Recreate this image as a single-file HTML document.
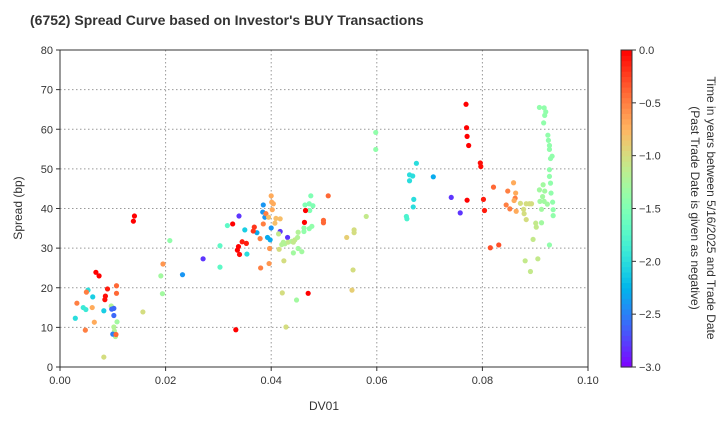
<!DOCTYPE html>
<html><head><meta charset="utf-8"><style>
body{margin:0;background:#fff;font-family:"Liberation Sans",sans-serif}
svg text{font-family:"Liberation Sans",sans-serif;fill:#333}
</style></head><body>
<svg id="c" width="720" height="420" xmlns="http://www.w3.org/2000/svg">
<defs><linearGradient id="cg" x1="0" y1="1" x2="0" y2="0" id2="x"></linearGradient></defs>
<text x="30" y="25" font-size="14" font-weight="bold" style="fill:#333">(6752)   Spread Curve based on Investor's BUY Transactions</text>
<g id="grid"></g>
<g id="pts"></g>
<g id="axes"></g>
<g id="cbar"></g>
<text x="324" y="410" font-size="12" text-anchor="middle">DV01</text>
<text transform="translate(22,208) rotate(-90)" font-size="12" text-anchor="middle">Spread (bp)</text>
<text transform="translate(707,208) rotate(90)" font-size="12" text-anchor="middle">Time in years between 5/16/2025 and Trade Date</text>
<text transform="translate(691,208) rotate(90)" font-size="12" text-anchor="middle">(Past Trade Date is given as negative)</text>
</svg>
<script>
const xTicks=[0,0.02,0.04,0.06,0.08,0.10];
const xTickLabels=["0.00","0.02","0.04","0.06","0.08","0.10"];
const yTicks=[0,10,20,30,40,50,60,70,80];
const cTicks=[0,-0.5,-1,-1.5,-2,-2.5,-3];
const cTickLabels=["0.0","−0.5","−1.0","−1.5","−2.0","−2.5","−3.0"];
const dv01=[.0141,.0139,.0208,.0195,.0191,.0232,.0194,.0157,.0068,.0074,.0053,.005,.009,.0107,.0107,.0086,.0085,.0062,.0032,.0044,.0049,.0061,.0083,.0097,.0102,.0098,.0102,.0108,.0029,.0065,.0048,.0102,.0103,.0105,.01,.0106,.0083,
.0271,.0303,.0303,.0333,.0339,.0327,.0317,.035,.0373,.0368,.0366,.0379,.0345,.0353,.0338,.0336,.034,.0354,.038,.0396,.0397,.0385,.0384,.0388,.039,.0385,.04,.0401,.0404,.0402,.0395,.0409,.0417,.0407,.04,.0393,.0398,.0417,.0414,.0431,
.042,.0426,.0432,.0439,.0445,.045,.0451,.0442,.0423,.0415,.0424,.0442,.0458,.0451,.0421,.0448,.047,.0428,.0475,.0464,.0472,.0479,.0473,.0465,.0463,.0462,.0462,.0472,.0477,.0508,.0499,.0499,.0557,.0557,.0543,.0555,.0553,.0598,.0598,.058,
.0769,.077,.0771,.0774,.0796,.0797,.0675,.0662,.0668,.0662,.0707,.067,.0669,.0656,.0657,.0741,.0758,.0771,.0802,.0804,.0821,.0815,.0831,.0845,.0852,.0848,.0862,.0859,.0863,.086,.0864,
.0872,.0883,.0889,.0893,.0878,.0879,.0883,.0901,.0902,.0896,.0905,.0881,.0891,.0912,.0927,
.0908,.0917,.092,.0918,.0916,.0924,.0925,.0927,.0927,.0932,.0929,.0927,.0927,.0929,.0915,.0908,.0918,.0914,.093,.0909,.0917,.0933,.0923,.0912,.0934,.0934];
const spread=[38.1,36.8,31.9,26,23,23.3,18.5,13.9,23.9,23,19.4,18.9,19.7,20.5,18.6,17.9,17,17.7,16.1,15,14.5,15,14.2,15.4,14.8,14.6,13,11.4,12.3,11.3,9.3,10.1,9.1,7.7,8.3,8.2,2.5,
27.3,30.6,25.2,9.4,38.1,36.1,35.7,34.6,33.9,35.3,34.3,32.4,31.6,31.2,30.4,29.5,28.4,28.5,25,26.1,29.9,40.9,39.1,37.8,38.7,36.1,43.2,41.6,41.2,39.7,37.8,37.5,37.4,36.3,35.1,32.7,32.1,34.2,33.6,32.7,
30.9,31.1,31.5,31.7,32.1,32.7,34,31.5,31.5,29.7,26.8,28.8,29.1,29.9,18.7,16.9,18.6,10.1,43.2,40.9,41.2,40.7,39.5,39.5,36.5,35.1,34.2,34.9,35.5,43.2,37,36.4,34.6,33.9,32.7,24.5,19.4,59.2,54.9,38,
66.3,60.4,58.2,55.9,51.5,50.6,51.4,48.5,48.2,47,48,42.3,40.4,38,37.4,42.8,38.9,42.1,42.3,39.5,45.4,30.1,30.8,40.9,39.9,44.4,42.6,46.5,43.9,42,39.3,
41.3,41.2,41.2,41.2,39.8,38.7,37.2,36.3,35.3,32.2,27.3,26.8,24.1,36.4,30.8,
65.5,65.4,64.4,63.5,61.6,58.5,57.2,55.9,54.9,53.2,52.6,49.8,48.1,46.4,46,44.7,44.4,43,43.9,41.8,41.8,41.6,41.1,39.8,39.7,38.2];
const tyears=[0,0,-1.4,-0.6,-1.3,-2.4,-1.3,-1,0,0,-2,-0.5,-0.1,-0.4,-0.4,-0.05,-0.05,-2.1,-0.5,-1.9,-1.9,-0.7,-2.1,-1.2,-2.6,-2.6,-2.6,-1.3,-2,-0.7,-0.5,-1.2,-1.2,-1.2,-2.5,-0.4,-1,
-2.8,-1.7,-1.7,0,-2.8,0,-1.7,-2.1,-2.3,-0.2,-0.2,-0.5,-0.1,-0.1,0,0,-0.05,-2,-0.5,-0.6,-0.6,-2.4,-2.4,-2.4,-0.5,-0.5,-0.7,-0.7,-0.7,-0.7,-0.8,-0.8,-0.8,-0.8,-2.4,-2.3,-2.3,-2.8,-1.1,-2.8,
-1.2,-1.2,-1.1,-1.2,-1.1,-1.2,-1.2,-1.1,-1.2,-1,-1,-1.3,-1.3,-1.3,-1,-1.3,0,-1,-1.5,-1.5,-1.5,-1.5,-1.5,0,0,-1.4,-1.4,-1.4,-1.4,-0.4,-0.4,-0.4,-1,-1,-0.9,-1,-0.9,-1.4,-1.4,-1.1,
0,0,0,0,-0.05,-0.05,-2,-2,-2,-2,-2.3,-2,-2,-1.8,-1.8,-2.8,-2.8,0,-0.1,-0.1,-0.4,-0.3,-0.3,-0.5,-0.5,-0.5,-0.5,-0.7,-0.7,-0.7,-0.7,
-1,-1,-1,-1,-1,-1,-1,-1.1,-1.1,-1.1,-1.1,-1.1,-1.1,-1.3,-1.4,
-1.4,-1.4,-1.4,-1.4,-1.4,-1.4,-1.4,-1.4,-1.4,-1.4,-1.4,-1.4,-1.4,-1.4,-1.3,-1.3,-1.3,-1.3,-1.4,-1.3,-1.3,-1.4,-1.3,-1.3,-1.4,-1.4];
const NS="http://www.w3.org/2000/svg";
const X0=60,X1=588,Y0=367,Y1=50;
const xs=v=>X0+(v/0.1)*(X1-X0);
const ys=v=>Y0-(v/80)*(Y0-Y1);
function rainbow(t){const v=Math.max(0,Math.min(1,(t+3)/3));
 const r=Math.min(1,Math.abs(2*v-0.5)),g=Math.sin(Math.PI*v),b=Math.cos(Math.PI*v/2);
 return `rgb(${Math.round(r*255)},${Math.round(g*255)},${Math.round(b*255)})`;}
function mk(tag,at,parent){const e=document.createElementNS(NS,tag);for(const k in at)e.setAttribute(k,at[k]);parent.appendChild(e);return e;}
const grid=document.getElementById('grid'),axes=document.getElementById('axes'),pts=document.getElementById('pts'),cb=document.getElementById('cbar');
xTicks.forEach((t,i)=>{const x=xs(t);
 if(i>0&&i<xTicks.length-1){const l=mk('line',{x1:x,x2:x,y1:Y1,y2:Y0,stroke:'#999','stroke-dasharray':'1.5,2.5','stroke-width':1},grid);
 
 }
 mk('line',{x1:x,x2:x,y1:Y0,y2:Y0+4,stroke:'#333'},axes);
 const tx=mk('text',{x:x,y:Y0+17,'font-size':11,'text-anchor':'middle'},axes);tx.textContent=xTickLabels[i];
 
 });
yTicks.forEach(t=>{const y=ys(t);
 if(t>0&&t<80){const l=mk('line',{x1:X0,x2:X1,y1:y,y2:y,stroke:'#999','stroke-dasharray':'1.5,2.5','stroke-width':1},grid);
 
 }
 mk('line',{x1:X0-4,x2:X0,y1:y,y2:y,stroke:'#333'},axes);
 const tx=mk('text',{x:X0-7,y:y+4,'font-size':11,'text-anchor':'end'},axes);tx.textContent=t;
 
 });
mk('rect',{x:X0,y:Y1,width:X1-X0,height:Y0-Y1,fill:'none',stroke:'#333','stroke-width':1},axes);
dv01.forEach((d,i)=>{const c=mk('circle',{cx:xs(d),cy:ys(spread[i]),r:2.6,fill:rainbow(tyears[i])},pts);
 
 });
// colorbar
const CX=621,CW=11,N=60;
for(let k=0;k<N;k++){const t0=-3+3*k/N;const y=Y0-(Y0-Y1)*(k+1)/N;
 mk('rect',{x:CX,y:y,width:CW,height:(Y0-Y1)/N+0.6,fill:rainbow(t0+1.5/N)},cb);}
mk('rect',{x:CX,y:Y1,width:CW,height:Y0-Y1,fill:'none',stroke:'#333'},cb);
cTicks.forEach((t,i)=>{const y=Y0-(Y0-Y1)*(t+3)/3;
 mk('line',{x1:CX+CW,x2:CX+CW+4,y1:y,y2:y,stroke:'#333'},cb);
 const tx=mk('text',{x:CX+CW+7,y:y+4,'font-size':11},cb);tx.textContent=cTickLabels[i];
 
 });
</script>
</body></html>
